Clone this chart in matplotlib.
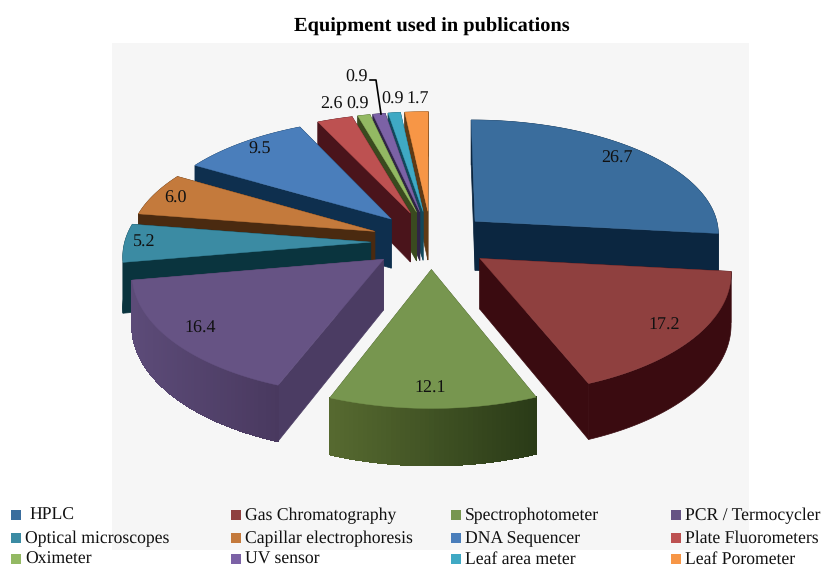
import numpy as np
import matplotlib
matplotlib.use("Agg")
import matplotlib.pyplot as plt
from matplotlib.patches import Rectangle

plt.rcParams['font.family'] = ['Liberation Serif', 'DejaVu Serif']
plt.rcParams['text.hinting'] = 'no_hinting'

names = ["HPLC", "Gas Chromatography", "Spectrophotometer", "PCR / Termocycler",
         "Optical microscopes", "Capillar electrophoresis", "DNA Sequencer", "Plate Fluorometers",
         "Oximeter", "UV sensor", "Leaf area meter", "Leaf Porometer"]
values = [26.7, 17.2, 12.1, 16.4, 5.2, 6.0, 9.5, 2.6, 0.9, 0.9, 0.9, 1.7]

top_colors = ["#3a6d9d", "#8f403f", "#77964f", "#665384", "#3b8ba3", "#c47a3c",
              "#4a7ebb", "#bd5151", "#93b963", "#7c62a6", "#3fa9c4", "#f79646"]
wall_colors = ["#0b2640", "#3a0b10", "#46592a", "#4b3c63", "#0a343e", "#4a2a10",
               "#0e2f4e", "#4a141b", "#3a4a1f", "#2f2545", "#12485a", "#5f3a15"]
# left and right colour of the curved wall, only the big front slices show a gradient
arc_left = {2: "#566a30", 3: "#5c4b78"}
arc_right = {2: "#2a3a17", 3: "#49395f"}

label_pos = [(617, 158), (664, 325), (430, 388), (200, 328), (144, 242), (175, 198),
             (260, 149), (331, 104), (358, 104), (357, 77), (393, 99), (418, 99)]

# camera of the 3D pie, in pixels
cx, cy = 431, 242
A, B = 246, 119
persp = 0.1
explode_x = 0.245
explode_back = 0.265
explode_front = 0.227
back_squash = 0.965
depth = 50


def project(u, v, z=0):
    s = 1 / (1 - v * persp)
    return cx + A * u * s, cy + B * v * s + z * s


def mix(c1, c2, t):
    a = np.array(matplotlib.colors.to_rgb(c1))
    b = np.array(matplotlib.colors.to_rgb(c2))
    return tuple(a + (b - a) * t)


fig = plt.figure(figsize=(8.24, 5.67), dpi=100)
ax = fig.add_axes([0, 0, 1, 1])
ax.set_xlim(0, 824)
ax.set_ylim(567, 0)
ax.axis("off")

ax.add_patch(Rectangle((112, 43), 637, 507, fc="#f6f6f6", ec="none", zorder=0))

edges = np.cumsum([0] + values) / sum(values) * 2 * np.pi
mids = (edges[:-1] + edges[1:]) / 2
# back slices first, front ones painted over them
order = sorted(range(len(values)), key=lambda k: np.cos(mids[k]), reverse=True)

z = 2
for i in order:
    a0, a1 = edges[i], edges[i + 1]
    c = np.cos(mids[i])
    ox = explode_x * np.sin(mids[i])
    oy = -(explode_back if c > 0 else explode_front) * c
    th = np.linspace(a0, a1, max(int((a1 - a0) * 60), 4))
    us = ox + np.sin(th)
    vs = oy - np.cos(th) * np.where(np.cos(th) > 0, back_squash, 1)
    top_x, top_y = project(us, vs)
    bot_x, bot_y = project(us, vs, depth)
    ax_, ay_ = project(ox, oy)
    bx_, by_ = project(ox, oy, depth)

    # the two flat cut faces
    for k in (0, -1):
        ax.fill([ax_, top_x[k], bot_x[k], bx_], [ay_, top_y[k], bot_y[k], by_],
                fc=wall_colors[i], ec=wall_colors[i], lw=0.5, zorder=z)
    z += 1
    # curved wall, strip by strip
    lo, hi = min(top_x), max(top_x)
    if i in arc_left:
        for k in range(len(th) - 1):
            t = ((top_x[k] + top_x[k + 1]) / 2 - lo) / max(hi - lo, 1)
            col = mix(arc_left[i], arc_right[i], t)
            ax.fill([top_x[k], top_x[k + 1], bot_x[k + 1], bot_x[k]],
                    [top_y[k], top_y[k + 1], bot_y[k + 1], bot_y[k]],
                    fc=col, ec=col, lw=0.8, antialiased=False, zorder=z)
    else:
        ax.fill(np.r_[top_x, bot_x[::-1]], np.r_[top_y, bot_y[::-1]],
                fc=wall_colors[i], ec=wall_colors[i], lw=0.5, zorder=z)
    z += 1
    ax.fill(np.r_[ax_, top_x], np.r_[ay_, top_y], fc=top_colors[i], ec=top_colors[i], lw=0.3, zorder=z)
    z += 1

for val, (lx, ly) in zip(values, label_pos):
    ax.text(lx, ly, f"{val:.1f}", ha="center", va="center", fontsize=13, color="#111111", zorder=z)

# leader of the UV sensor label
ax.plot([370, 376, 381], [80, 80, 114], color="black", lw=1.2, zorder=z)

ax.text(432, 27, "Equipment used in publications", ha="center", va="center",
        fontsize=14.7, fontweight="bold", color="black")

# legend, 4 columns by 3 rows, text on a common baseline per row
col_x = [11, 231, 451, 671]
row_y = [515, 538, 559]
for i, name in enumerate(names):
    c = col_x[i % 4]
    r = row_y[i // 4]
    ax.add_patch(Rectangle((c, r - 5), 10, 10, fc=top_colors[i], ec="none"))
    tx = c + 18 if i == 0 else c + 14
    ax.text(tx, r + 5, name, ha="left", va="baseline", fontsize=12.7, color="#111111")

fig.savefig("out.png", dpi=100)
